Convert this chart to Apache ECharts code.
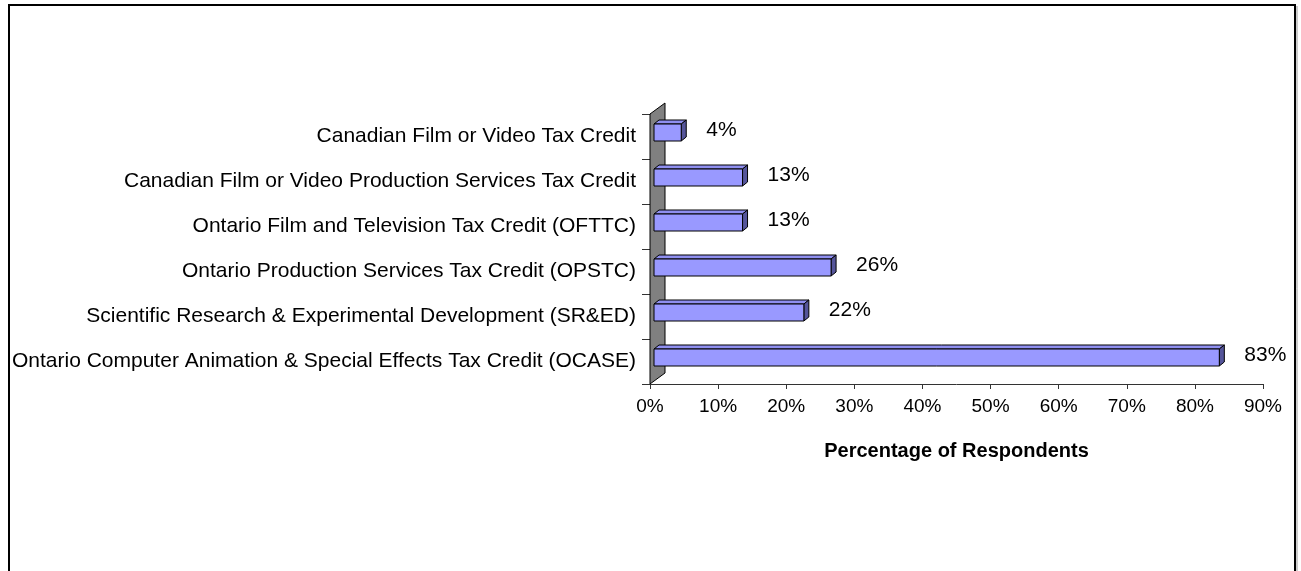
<!DOCTYPE html>
<html>
<head>
<meta charset="utf-8">
<script src="https://cdn.jsdelivr.net/npm/echarts@6/dist/echarts.min.js"></script>
<style>
  html, body { margin: 0; padding: 0; background: #fff; }
  #chart { width: 1301px; height: 571px; }
</style>
</head>
<body>
<div id="chart"></div>
<script>
  const categories = [
    'Canadian Film or Video Tax Credit',
    'Canadian Film or Video Production Services Tax Credit',
    'Ontario Film and Television Tax Credit (OFTTC)',
    'Ontario Production Services Tax Credit (OPSTC)',
    'Scientific Research & Experimental Development (SR&ED)',
    'Ontario Computer Animation & Special Effects Tax Credit (OCASE)'
  ];
  const percentValues = [4, 13, 13, 26, 22, 83];
  const xTicks = [0, 10, 20, 30, 40, 50, 60, 70, 80, 90];

  const font = "'Liberation Sans', Arial, sans-serif";
  const chart = echarts.init(document.getElementById('chart'));

  // 3d bar: front face + top face + right side face
  function renderBar(params, api) {
    const idx = api.value(0);
    const val = api.value(1);
    const start = api.coord([0, idx]);
    const end = api.coord([val, idx]);
    const dx = 5, dy = -4, h = 17;
    const x0 = start[0] + 4;
    const x1 = end[0] + 4;
    const yc = start[1] - 4;
    const yt = yc - h / 2;
    const yb = yc + h / 2;
    const line = { stroke: '#000', lineWidth: 1 };
    return {
      type: 'group',
      children: [
        {
          type: 'polygon',
          shape: { points: [[x0, yt], [x0 + dx, yt + dy], [x1 + dx, yt + dy], [x1, yt]] },
          style: Object.assign({ fill: '#8f8ff0' }, line)
        },
        {
          type: 'polygon',
          shape: { points: [[x1, yt], [x1 + dx, yt + dy], [x1 + dx, yb + dy], [x1, yb]] },
          style: Object.assign({ fill: '#55559a' }, line)
        },
        {
          type: 'rect',
          shape: { x: x0, y: yt, width: x1 - x0, height: h },
          style: Object.assign({ fill: '#9999ff' }, line)
        },
        {
          type: 'text',
          x: x1 + 25,
          y: yc - 2,
          style: {
            text: val + '%',
            font: '21px ' + font,
            fill: '#000',
            verticalAlign: 'middle',
            align: 'left'
          }
        }
      ]
    };
  }

  // gray side wall at the value origin
  function renderWall(params, api) {
    const cs = params.coordSys;
    const x = cs.x, top = cs.y, bottom = cs.y + cs.height;
    return {
      type: 'polygon',
      shape: { points: [[x, bottom], [x, top], [x + 15, top - 11], [x + 15, bottom - 11]] },
      style: { fill: '#808080', stroke: '#000', lineWidth: 1 }
    };
  }

  const option = {
    backgroundColor: '#fff',
    animation: false,
    graphic: [
      {
        type: 'rect',
        shape: { x: 9, y: 5, width: 1286, height: 620 },
        style: { fill: 'none', stroke: '#000', lineWidth: 2 }
      },
      {
        type: 'line',
        shape: { x1: 1297, y1: 6, x2: 1297, y2: 571 },
        style: { stroke: '#999', lineWidth: 1 }
      }
    ],
    grid: {
      left: 650,
      top: 114,
      width: 613,
      height: 270
    },
    xAxis: {
      type: 'value',
      min: 0,
      max: 90,
      interval: 10,
      name: 'Percentage of Respondents',
      nameLocation: 'middle',
      nameGap: 57,
      nameTextStyle: { fontFamily: font, fontSize: 20, fontWeight: 'bold', color: '#000' },
      axisLine: { show: true, lineStyle: { color: '#333', width: 1 } },
      axisTick: { show: true, length: 5, lineStyle: { color: '#333' } },
      axisLabel: {
        formatter: '{value}%',
        fontFamily: font,
        fontSize: 19,
        color: '#000',
        margin: 13
      },
      splitLine: { show: false }
    },
    yAxis: {
      type: 'category',
      data: categories,
      inverse: true,
      axisLine: { show: true, lineStyle: { color: '#000', width: 1 } },
      axisTick: { show: true, length: 8, lineStyle: { color: '#333' } },
      axisLabel: {
        fontFamily: font,
        fontSize: 21,
        color: '#000',
        margin: 14,
        padding: [0, 0, 6, 0]
      },
      splitLine: { show: false }
    },
    series: [
      {
        type: 'custom',
        renderItem: renderWall,
        data: [[0, 0]],
        z: 1,
        silent: true
      },
      {
        type: 'custom',
        renderItem: renderBar,
        encode: { x: 1, y: 0 },
        data: percentValues.map((v, i) => [i, v]),
        z: 2,
        silent: true
      }
    ]
  };

  chart.setOption(option);
</script>
</body>
</html>
